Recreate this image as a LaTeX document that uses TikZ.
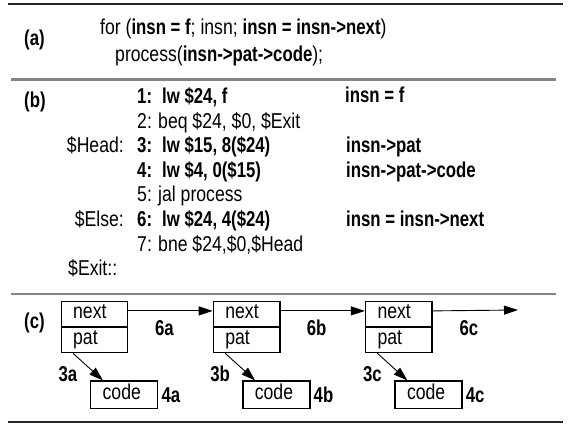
\documentclass[tikz,border=0pt]{standalone}
\usepackage{fontspec}
\setmainfont{Liberation Sans}[FakeStretch=0.82, BoldFeatures={FakeStretch=0.78}]
\usetikzlibrary{arrows.meta}
\begin{document}
\begin{tikzpicture}[x=1pt,y=-1pt,
  font=\fontsize{21.5}{25}\selectfont,
  txt/.style={inner sep=0pt, anchor=base west},
  rtxt/.style={inner sep=0pt, anchor=base east},
  lbl/.style={inner sep=0pt, anchor=center, font=\fontsize{21.5}{25}\selectfont\bfseries},
  cell/.style={draw, line width=1.3pt, minimum width=66.5pt, minimum height=25.5pt,
    inner xsep=12pt, inner ysep=0pt, text width=42.5pt, align=left,
    text height=14pt, text depth=5pt, anchor=north west},
  codebox/.style={cell, minimum height=27.5pt, minimum width=67pt, text width=43pt},
  arr/.style={line width=0.9pt, -{Triangle[length=14pt,width=9pt]}},
  rule/.style={line width=1.1pt, black!85},
  grayrule/.style={line width=2.4pt, black!48}
]
\useasboundingbox (0,0) rectangle (568,430);
% rules
\draw[rule] (8,4) -- (563,4);
\draw[grayrule] (11,79.5) -- (556,79.5);
\draw[grayrule] (11,294) -- (556,294);
\draw[rule] (8,422) -- (563,422);

% (a)
\node[txt, font=\fontsize{21.5}{25}\selectfont\bfseries] (la) at (24,46) {(a)};
\node[txt] (a1) at (100,35) {for (\textbf{insn = f}; insn; \textbf{insn = insn->next})};
\node[txt] (a2) at (115,62) {process(\textbf{insn->pat->code});};

% (b)
\node[txt, font=\fontsize{21.5}{25}\selectfont\bfseries] (lb) at (24,108) {(b)};
\node[rtxt] (head) at (124,153) {\$Head:};
\node[rtxt] (else) at (124,227) {\$Else:};
\node[txt] (exit) at (68,276) {\$Exit::};

\node[txt] (n1) at (137,104) {\textbf{1:}};
\node[txt] (n2) at (137,128.5) {2:};
\node[txt] (n3) at (137,153) {\textbf{3:}};
\node[txt] (n4) at (137,177.5) {\textbf{4:}};
\node[txt] (n5) at (137,202) {5:};
\node[txt] (n6) at (137,227) {\textbf{6:}};
\node[txt] (n7) at (137,251.5) {7:};

\node[txt] (i1) at (162,104) {\textbf{lw \$24, f}};
\node[txt] (i2) at (158,128.5) {beq \$24, \$0, \$Exit};
\node[txt] (i3) at (162,153) {\textbf{lw \$15, 8(\$24)}};
\node[txt] (i4) at (162,177.5) {\textbf{lw \$4, 0(\$15)}};
\node[txt] (i5) at (158,202) {jal process};
\node[txt] (i6) at (162,227) {\textbf{lw \$24, 4(\$24)}};
\node[txt] (i7) at (158,251.5) {bne \$24,\$0,\$Head};

\node[txt] (c1) at (345,103) {\textbf{insn = f}};
\node[txt] (c3) at (346,153) {\textbf{insn->pat}};
\node[txt] (c4) at (346,177.5) {\textbf{insn->pat->code}};
\node[txt] (c6) at (346,227) {\textbf{insn = insn->next}};

% (c)
\node[txt, font=\fontsize{21.5}{25}\selectfont\bfseries] (lc) at (24,329) {(c)};

\foreach \L/\s in {60.5/a, 212.7/b, 364.9/c} {
  \node[cell] (next\s) at (\L,301) {next};
  \node[cell] (pat\s) at (\L,326.5) {pat};
  \node[codebox] (code\s) at (\L+29.5,380.5) {code};
  \node[lbl] (six\s) at (\L+104,328) {6\s};
  \node[lbl] (three\s) at (\L+7.5,374) {3\s};
  \node[lbl, anchor=west] (four\s) at ([xshift=3pt]code\s.east) {4\s};
  \draw[arr] ([xshift=12.5pt]pat\s.south west) -- ([xshift=13pt]code\s.north west);
}
\coordinate (endc) at (518,310);
\draw[arr] ([yshift=3.5pt]nexta.east) -- ([yshift=3.5pt]nextb.west);
\draw[arr] ([yshift=3.5pt]nextb.east) -- ([yshift=3.5pt]nextc.west);
\draw[arr] ([yshift=3.5pt]nextc.east) -- (endc);
\end{tikzpicture}
\end{document}
